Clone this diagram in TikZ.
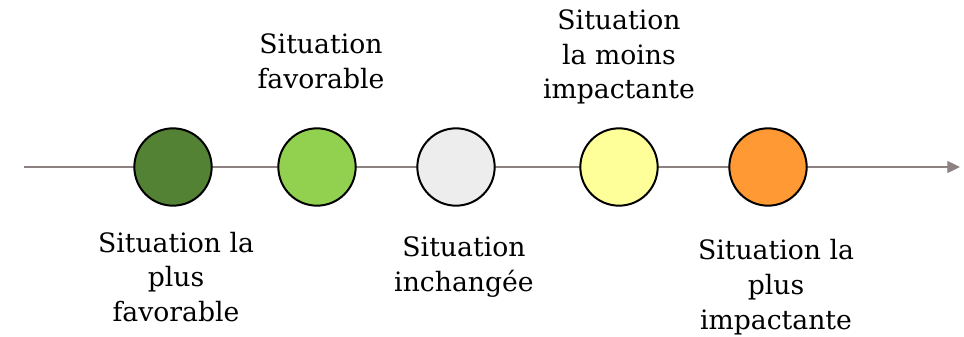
\documentclass[tikz,border=0pt]{standalone}
\usepackage{fontspec}
\setmainfont{DejaVu Serif}
\usetikzlibrary{arrows.meta, positioning}

\definecolor{darkgreen}{HTML}{548235}
\definecolor{lightgreen}{HTML}{92D050}
\definecolor{neutralgray}{HTML}{EDEDED}
\definecolor{paleyellow}{HTML}{FFFF99}
\definecolor{warmorange}{HTML}{FF9933}
\definecolor{axisgray}{HTML}{8C8282}

\begin{document}
\begin{tikzpicture}[
    x=0.75pt, y=-0.75pt,
    dot/.style={draw, circle, line width=1.5pt, minimum size=58pt, inner sep=0pt},
    lbl/.style={align=center, font=\fontsize{20}{26}\selectfont, inner sep=0pt},
    axis/.style={-{Triangle[length=9.5pt, width=9pt]}, draw=axisgray, fill=axisgray, line width=0.9pt}
]
\useasboundingbox (0,0) rectangle (964,336);
% Axis
\coordinate (start) at (24,167);
\coordinate (end) at (960,167);
\draw[axis] (start) -- (end);
% Circles
\node[dot, fill=darkgreen] (c1) at (173,167) {};
\node[dot, fill=lightgreen] (c2) at (317,167) {};
\node[dot, fill=neutralgray] (c3) at (456,167) {};
\node[dot, fill=paleyellow] (c4) at (619,167) {};
\node[dot, fill=warmorange] (c5) at (768,167) {};
% Labels
\node[lbl] (t1) at (176,277) {Situation la\\plus\\favorable};
\node[lbl] (t2) at (321,61) {Situation\\favorable};
\node[lbl] (t3) at (464,267) {Situation\\inchangée};
\node[lbl] (t4) at (619,57) {Situation\\la moins\\impactante};
\node[lbl] (t5) at (776,287) {Situation la\\plus\\impactante};
\end{tikzpicture}
\end{document}
